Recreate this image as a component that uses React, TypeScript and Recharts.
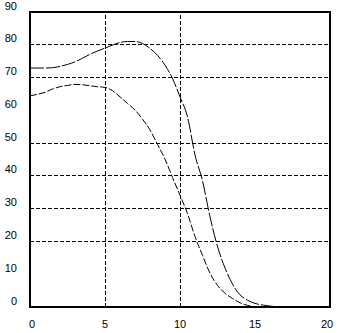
import { LineChart, Line, XAxis, YAxis, ReferenceLine, ReferenceArea } from 'recharts';

// x positions shared by both curves
const xValues = [
  0, 0.5, 1, 1.5, 2, 2.5, 3, 3.5, 4, 4.5, 5, 5.5, 6, 6.5, 7, 7.5, 8, 8.5, 9, 9.5,
  10, 10.5, 11, 11.5, 12, 12.5, 13, 13.5, 14, 14.5, 15, 15.5, 16, 16.5,
];

const upperCurve = [
  72.9, 72.9, 72.9, 73.0, 73.4, 74.0, 74.8, 75.9, 77.1, 78.1, 79.0, 79.9, 80.7, 81.0, 81.0, 80.4, 78.9,
  76.8, 73.8, 69.7, 64.1, 58.0, 46.4, 38.5, 27.5, 18.5, 11.9, 7.0, 3.7, 2.1, 1.1, 0.6, 0.3, 0,
];

const lowerCurve = [
  64.4, 64.9, 65.5, 66.5, 67.2, 67.6, 67.9, 67.8, 67.5, 67.2, 67.0, 66.0, 64.1, 62.1, 60.1, 57.3, 54.0,
  49.6, 45.1, 39.5, 34.1, 28.5, 21.5, 15.8, 10.3, 6.6, 4.2, 2.6, 1.3, 0.5, 0.1,
];

const xTicks = [0, 5, 10, 15, 20];
const yTicks = [0, 10, 20, 30, 40, 50, 60, 70, 80, 90];
const gridX = [5, 10];
const gridY = [20, 30, 40, 50, 70, 80];

const upperData = upperCurve.map((v, i) => ({ x: xValues[i], y: v }));
const lowerData = lowerCurve.map((v, i) => ({ x: xValues[i], y: v }));

const FONT = 'Liberation Sans, Arial, sans-serif';

function YTick(props: any) {
  const { y, payload } = props;
  return (
    <text x={17} y={y - 2.5} textAnchor="end" fontSize={11} fontFamily={FONT} fill="#000">
      {payload.value}
    </text>
  );
}

function XTick(props: any) {
  const { x, payload } = props;
  // keep the end labels inside the frame
  const cx = Math.min(Math.max(x, 32), 327);
  return (
    <text x={cx} y={328} textAnchor="middle" fontSize={11} fontFamily={FONT} fill="#000">
      {payload.value}
    </text>
  );
}

export default function App() {
  return (
    <div style={{ position: 'absolute', left: 0, top: 0, background: '#fff' }}>
      <LineChart width={339} height={333} margin={{ top: 12, right: 9, bottom: 0, left: 0 }}>
        <XAxis
          type="number"
          dataKey="x"
          domain={[0, 20]}
          ticks={xTicks}
          height={26}
          tickLine={false}
          axisLine={false}
          tick={<XTick />}
          allowDataOverflow
        />
        <YAxis
          type="number"
          dataKey="y"
          domain={[0, 90]}
          ticks={yTicks}
          width={30}
          tickLine={false}
          axisLine={false}
          tick={<YTick />}
          allowDataOverflow
        />
        {gridY.map((v) => (
          <ReferenceLine key={'gy' + v} y={v} stroke="#000" strokeDasharray="4 2" shapeRendering="crispEdges" />
        ))}
        {gridX.map((v) => (
          <ReferenceLine key={'gx' + v} x={v} stroke="#000" strokeDasharray="4 2" shapeRendering="crispEdges" />
        ))}
        <ReferenceArea x1={0} x2={20} y1={0} y2={90} fill="none" stroke="#000" strokeWidth={1.5} shapeRendering="crispEdges" />
        <Line
          data={upperData}
          dataKey="y"
          type="monotone"
          stroke="#000"
          strokeWidth={1}
          strokeDasharray="14 2"
          dot={false}
          isAnimationActive={false}
        />
        <Line
          data={lowerData}
          dataKey="y"
          type="monotone"
          stroke="#000"
          strokeWidth={1}
          strokeDasharray="7 2"
          dot={false}
          isAnimationActive={false}
        />
      </LineChart>
    </div>
  );
}
